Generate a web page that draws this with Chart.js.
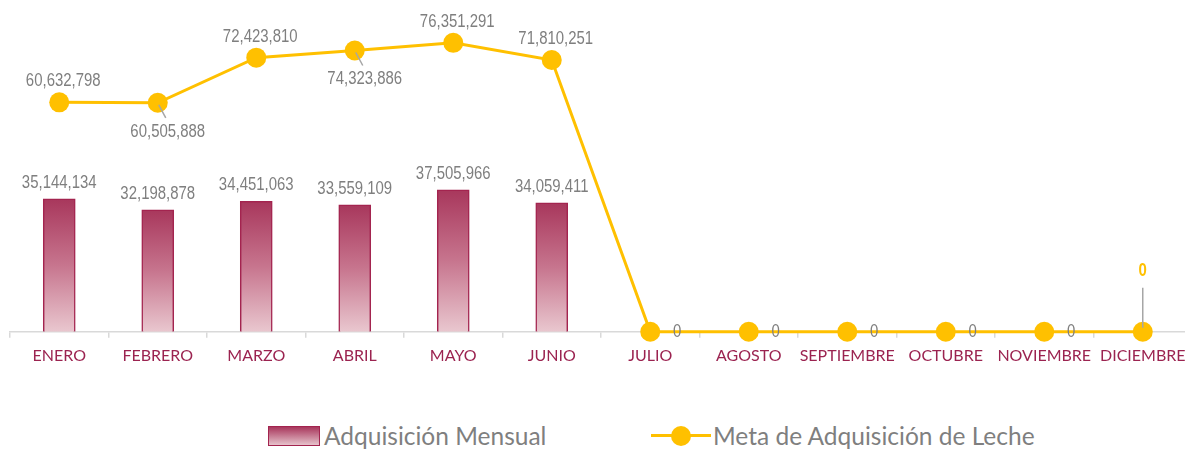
<!DOCTYPE html>
<html>
<head>
<meta charset="utf-8">
<script src="https://cdn.jsdelivr.net/npm/chart.js@4.4.1/dist/chart.umd.min.js"></script>
<style>
  body { margin: 0; background: #fff; overflow: hidden; width: 1185px; height: 449px; position: relative; }
  #wrap { position: absolute; left: 0; top: 0; width: 1202px; height: 373px; }
  .legend { position: absolute; top: 421px; font-family: Lato, "Open Sans", sans-serif; font-size: 24.5px; color: #7f7f7f; display: flex; align-items: center; white-space: nowrap; }
  .sw-bar { width: 50px; height: 18px; border: 1.5px solid #a3244f; background: linear-gradient(#a8375c, #e6c2cb); margin-right: 4px; }
  .sw-line { position: relative; width: 60px; height: 22px; margin-right: 2px; }
  .sw-line:before { content: ""; position: absolute; left: 0; right: 0; top: 9.5px; height: 3px; background: #ffc000; }
  .sw-line:after { content: ""; position: absolute; left: 20px; top: 1px; width: 20px; height: 20px; border-radius: 50%; background: #ffc000; }
</style>
</head>
<body>
<div id="wrap"><canvas id="grafica"></canvas></div>
<div class="legend" style="left:268px"><div class="sw-bar"></div>Adquisición Mensual</div>
<div class="legend" style="left:651px"><div class="sw-line"></div>Meta de Adquisición de Leche</div>
<script>
const meses = ['ENERO', 'FEBRERO', 'MARZO', 'ABRIL', 'MAYO', 'JUNIO', 'JULIO', 'AGOSTO', 'SEPTIEMBRE', 'OCTUBRE', 'NOVIEMBRE', 'DICIEMBRE'];
const adquisicionMensual = [35144134, 32198878, 34451063, 33559109, 37505966, 34059411, null, null, null, null, null, null];
const metaAdquisicion = [60632798, 60505888, 72423810, 74323886, 76351291, 71810251, 0, 0, 0, 0, 0, 0];
// where the label of each line point goes
const posEtiquetaMeta = ['above', 'below', 'above', 'below', 'above', 'above', 'right', 'right', 'right', 'right', 'right', 'callout'];

const fontNum = '"Liberation Sans", Arial, sans-serif';

function gradienteBarra(ctx) {
  const chart = ctx.chart;
  const y = chart.scales.y;
  if (!y || ctx.type !== 'data' || ctx.raw == null) return '#c05a7a';
  const top = y.getPixelForValue(ctx.raw);
  const bot = y.getPixelForValue(0);
  if (!isFinite(top) || !isFinite(bot)) return '#c05a7a';
  const g = chart.ctx.createLinearGradient(0, top, 0, bot);
  g.addColorStop(0, '#a8375c');
  g.addColorStop(0.5, '#c7758e');
  g.addColorStop(1, '#e9c7cf');
  return g;
}

// narrow text: Arial squeezed horizontally, like Arial Narrow
function textoAngosto(c, txt, x, y) {
  c.save();
  c.translate(x, y);
  c.scale(0.83, 1);
  c.fillText(txt, 0, 0);
  c.restore();
}

const etiquetas = {
  id: 'etiquetas',
  afterDatasetsDraw(chart) {
    const c = chart.ctx;
    c.save();
    c.textAlign = 'center';
    c.textBaseline = 'middle';
    c.font = '18px ' + fontNum;
    c.fillStyle = '#7f7f7f';
    chart.getDatasetMeta(1).data.forEach((el, i) => {
      const v = adquisicionMensual[i];
      if (v == null) return;
      textoAngosto(c, v.toLocaleString('en-US'), el.x, el.y - 16);
    });
    chart.getDatasetMeta(0).data.forEach((el, i) => {
      const txt = metaAdquisicion[i].toLocaleString('en-US');
      const p = posEtiquetaMeta[i];
      c.fillStyle = '#7f7f7f';
      c.font = '18px ' + fontNum;
      c.strokeStyle = '#a6a6a6';
      c.lineWidth = 1.5;
      if (p === 'above') {
        textoAngosto(c, txt, el.x + 4, el.y - 21);
      } else if (p === 'below') {
        c.beginPath(); c.moveTo(el.x + 1, el.y + 2); c.lineTo(el.x + 8, el.y + 15); c.stroke();
        textoAngosto(c, txt, el.x + 10, el.y + 29);
      } else if (p === 'right') {
        textoAngosto(c, txt, el.x + 27, el.y);
      } else {
        c.beginPath(); c.moveTo(el.x, el.y - 4); c.lineTo(el.x, el.y - 44); c.stroke();
        c.fillStyle = '#ffc000';
        c.font = 'bold 18px ' + fontNum;
        textoAngosto(c, txt, el.x, el.y - 61);
      }
    });
    c.restore();
  }
};

new Chart(document.getElementById('grafica'), {
  data: {
    labels: meses,
    datasets: [
      {
        type: 'line',
        label: 'Meta de Adquisición de Leche',
        data: metaAdquisicion,
        borderColor: '#ffc000',
        backgroundColor: '#ffc000',
        borderWidth: 3,
        pointRadius: 10,
        pointHoverRadius: 10,
        pointBorderWidth: 0,
        tension: 0,
        order: 0,
        clip: false
      },
      {
        type: 'bar',
        label: 'Adquisición Mensual',
        data: adquisicionMensual,
        backgroundColor: gradienteBarra,
        borderColor: '#a3244f',
        borderWidth: 1.5,
        barThickness: 32,
        order: 1
      }
    ]
  },
  options: {
    responsive: true,
    maintainAspectRatio: false,
    animation: false,
    layout: { padding: { left: 10, right: 8, top: 29, bottom: 0 } },
    plugins: { legend: { display: false }, tooltip: { enabled: false } },
    scales: {
      x: {
        offset: true,
        grid: { offset: true, drawOnChartArea: false, drawTicks: true, tickLength: 6, color: '#d9d9d9', lineWidth: 1.5 },
        border: { color: '#d9d9d9', width: 1.5 },
        ticks: { color: '#9b2350', font: { family: 'Lato, "Open Sans", sans-serif', size: 16 }, padding: 8, maxRotation: 0, autoSkip: false }
      },
      y: {
        display: false,
        min: 0,
        max: 80000000
      }
    }
  },
  plugins: [etiquetas]
});
</script>
</body>
</html>
